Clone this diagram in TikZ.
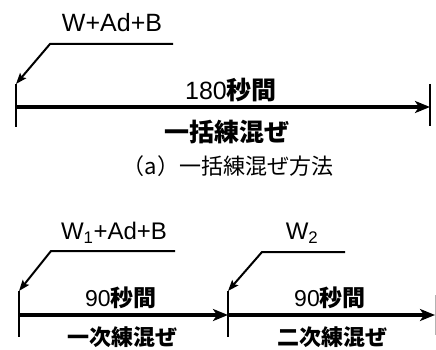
\documentclass[tikz,border=0pt]{standalone}
\usepackage{fontspec}
\setmainfont{Liberation Sans}
\newfontfamily\jp{Noto Sans CJK JP}
\usetikzlibrary{arrows.meta}
\begin{document}
\begin{tikzpicture}[x=1pt,y=-1pt,
  tickline/.style={line width=2.6pt},
  mainarrow/.style={line width=3.6pt,-{Stealth[length=15pt,width=12pt,inset=4pt]}},
  leader/.style={line width=2pt,-{Stealth[length=11pt,width=8pt,inset=2pt]}},
  lab/.style={inner sep=0pt,anchor=center}]
\useasboundingbox (0,0) rectangle (436,350);
% ---------- (a) ----------
\coordinate (aTtop) at (16,84);
\coordinate (aTbot) at (16,127);
\coordinate (bTtop) at (430,84);
\coordinate (bTbot) at (430,126);
\coordinate (aS) at (15,107);
\coordinate (aE) at (430,107);
\coordinate (aL1) at (173,44);
\coordinate (aL2) at (50,44);
\draw[tickline] (aTtop) -- (aTbot);
\draw[tickline] (bTtop) -- (bTbot);
\draw[mainarrow] (aS) -- (aE);
\draw[leader] (aL1) -- (aL2) -- (aTtop);
\node[lab,font=\fontsize{25}{25}\selectfont] (wab) at (112,23) {W+Ad+B};
\node[lab,font=\fontsize{25}{25}\selectfont] (t180) at (231,90) {180{\jp\bfseries 秒間}};
\node[lab,font=\fontsize{25}{25}\selectfont\jp\bfseries] (ikkatsu) at (227,132) {一括練混ぜ};
\node[lab,font=\fontsize{22}{22}\selectfont\jp] (capa) at (228,166) {（a）一括練混ぜ方法};
% ---------- (b) ----------
\coordinate (cTtop) at (19,291);
\coordinate (cTbot) at (19,337);
\coordinate (dTtop) at (228,291);
\coordinate (dTbot) at (228,337);
\coordinate (cS) at (18,315);
\coordinate (cM) at (228,315);
\coordinate (cE) at (435,315);
\coordinate (eTtop) at (435,295);
\coordinate (eTbot) at (435,335);
\coordinate (cL1) at (175,251);
\coordinate (cL2) at (51,251);
\coordinate (dL1) at (345,252);
\coordinate (dL2) at (262,252);
\draw[tickline] (cTtop) -- (cTbot);
\draw[tickline] (dTtop) -- (dTbot);
\draw[gray!60,line width=0.8pt] (eTtop) -- (eTbot);
\draw[mainarrow] (cS) -- (cM);
\draw[mainarrow] (cM) -- (cE);
\draw[leader] (cL1) -- (cL2) -- (cTtop);
\draw[leader] (dL1) -- (dL2) -- (dTtop);
\node[lab,font=\fontsize{24}{24}\selectfont] (w1ab) at (114,233) {W\textsubscript{1}+Ad+B};
\node[lab,font=\fontsize{24}{24}\selectfont] (w2) at (302,233) {W\textsubscript{2}};
\node[lab,font=\fontsize{23}{23}\selectfont] (t90a) at (121,298) {90{\jp\bfseries 秒間}};
\node[lab,font=\fontsize{23}{23}\selectfont] (t90b) at (330,298) {90{\jp\bfseries 秒間}};
\node[lab,font=\fontsize{22}{22}\selectfont\jp\bfseries] (ichiji) at (122,337) {一次練混ぜ};
\node[lab,font=\fontsize{22}{22}\selectfont\jp\bfseries] (niji) at (332,337) {二次練混ぜ};
\end{tikzpicture}
\end{document}
